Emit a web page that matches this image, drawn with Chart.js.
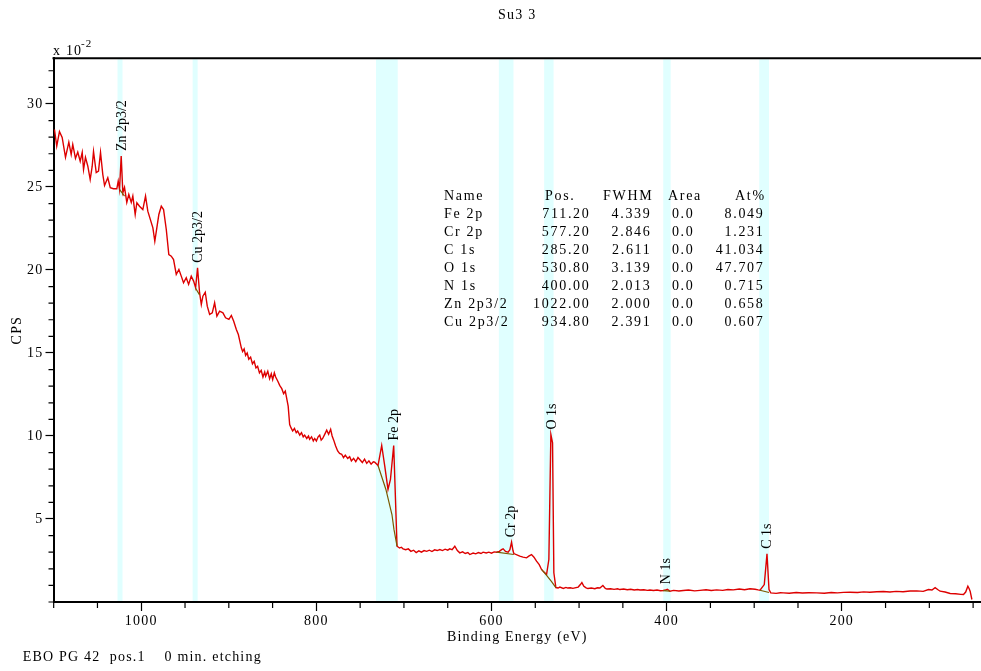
<!DOCTYPE html>
<html>
<head>
<meta charset="utf-8">
<title>Su3 3</title>
<script src="https://cdn.jsdelivr.net/npm/chart.js@4.4.1/dist/chart.umd.min.js"></script>
<style>
  html, body { margin: 0; padding: 0; background: #fff; }
  #wrap { width: 981px; height: 671px; }
</style>
</head>
<body>
<div id="wrap"><canvas id="chart" width="981" height="671"></canvas></div>
<script>
// ── Survey spectrum (binding energy in eV, CPS × 10^-2) ─────────────────────
const energy = [
  // 1100 → 886 eV
  1099.1, 1096.5, 1093.4, 1090.3, 1086.5, 1082.7, 1080.0, 1078.2, 1075.1, 1072.5,
  1069.7, 1067.4, 1065.9, 1063.7, 1061.0, 1058.3, 1056.0, 1054.5, 1051.4, 1048.8,
  1046.5, 1043.9, 1041.9, 1038.2, 1035.4, 1031.7, 1027.9, 1026.3, 1024.8, 1022.9,
  1021.0, 1019.1, 1016.5, 1014.2, 1011.4, 1009.6, 1006.9, 1005.0, 1002.0, 998.2,
  995.1, 992.5, 986.7, 984.5, 982.2, 979.9, 977.1, 974.5, 971.4, 968.5,
  965.7, 963.1, 960.0, 957.0, 954.3, 951.7, 948.6, 945.9, 942.9, 940.2,
  937.9, 935.7, 933.4, 931.4, 929.6, 926.9, 924.6, 921.9, 918.9, 916.2,
  913.6, 910.5, 906.7, 903.7, 899.9, 897.1, 894.5, 891.4, 889.1, 885.7,
  // 884 → 731 eV
  884.2, 882.5, 880.8, 879.0, 877.2, 875.1, 873.0, 871.0, 869.0, 867.1,
  865.0, 863.0, 861.0, 859.0, 857.9, 855.5, 853.4, 851.5, 849.9, 848.0,
  846.5, 844.0, 841.9, 839.5, 837.4, 835.5, 834.0, 832.2, 830.5, 829.0,
  827.1, 825.0, 823.0, 821.4, 819.0, 817.0, 815.0, 813.4, 811.0, 809.0,
  807.7, 805.5, 803.5, 801.9, 800.0, 798.0, 796.2, 794.5, 792.8, 790.5,
  788.2, 786.0, 783.7, 782.0, 780.2, 778.0, 775.7, 773.5, 771.1, 769.0,
  767.0, 764.2, 762.0, 760.0, 757.5, 755.0, 752.5, 750.0, 747.5, 745.0,
  742.5, 740.0, 737.5, 735.0, 733.4, 731.0,
  // Fe 2p
  729.6, 725.4, 721.9, 718.2, 715.4, 711.7, 709.4,
  // 708 → 574 eV
  707.9, 705.0, 703.0, 701.0, 698.0, 695.0, 692.0, 689.0, 686.0, 683.0,
  680.0, 677.0, 674.0, 671.0, 668.0, 665.0, 662.0, 659.0, 656.0, 653.0,
  650.0, 647.7, 645.0, 641.9, 639.0, 636.2, 633.0, 630.0, 627.0, 624.8,
  621.0, 618.0, 615.0, 612.0, 609.6, 606.0, 603.0, 600.0, 597.0, 594.3,
  591.0, 588.5, 586.7, 584.0, 581.0, 579.0, 577.1, 575.5, 574.5,
  // 568 → 529 eV (O 1s)
  567.7, 564.0, 560.0, 557.0, 554.3, 551.5, 548.6, 545.5, 542.9, 540.0,
  537.1, 534.5, 532.2, 530.3, 528.8,
  // 527 → 293 eV
  526.5, 524.0, 521.9, 518.0, 515.0, 513.0, 510.0, 507.0, 504.8, 501.0,
  498.5, 496.8, 494.5, 492.0, 489.9, 486.0, 482.0, 479.0, 476.2, 472.8,
  470.0, 468.2, 464.0, 460.0, 456.0, 453.4, 449.0, 445.0, 441.0, 437.0,
  433.0, 430.5, 426.0, 422.0, 419.1, 415.0, 411.0, 407.0, 403.9, 401.0,
  399.3, 397.5, 396.2, 392.0, 386.0, 381.0, 375.0, 368.0, 361.9, 355.0,
  349.0, 342.9, 336.0, 330.0, 323.9, 317.0, 311.0, 304.8, 299.0, 295.5,
  293.4,
  // C 1s and low-energy tail
  288.5, 285.4, 283.1, 281.1, 275.0, 270.0, 266.7, 260.0, 252.0, 245.0,
  238.0, 228.6, 220.0, 212.0, 205.0, 198.0, 190.5, 182.0, 175.0, 168.0,
  160.0, 152.5, 145.0, 138.0, 130.0, 122.0, 114.3, 107.0, 101.0, 97.0,
  93.4, 90.5, 87.7, 82.0, 76.2, 70.0, 64.0, 61.0, 58.5, 56.0,
  54.5, 53.4, 51.4
];
const cps = [
  // 1100 → 886 eV
  28.46, 27.46, 28.34, 27.98, 26.78, 27.70, 26.96, 27.56, 26.72, 27.10,
  26.55, 27.08, 26.05, 26.78, 26.25, 25.45, 26.25, 27.14, 25.87, 25.95,
  27.08, 25.75, 25.09, 25.55, 24.95, 24.89, 24.89, 25.35, 24.85, 26.86,
  24.65, 24.97, 24.07, 24.55, 24.07, 24.45, 23.34, 24.05, 23.84, 23.64,
  24.45, 23.54, 22.54, 21.73, 22.54, 23.34, 23.84, 23.64, 22.44, 20.93,
  20.83, 20.63, 19.73, 20.03, 19.63, 19.23, 19.53, 19.13, 19.63, 19.33,
  18.93, 20.13, 18.63, 17.92, 18.42, 18.66, 17.82, 17.32, 17.42, 18.02,
  17.22, 17.52, 17.42, 17.12, 17.02, 17.26, 16.92, 16.42, 16.11, 15.31,
  // 884 → 731 eV
  15.09, 15.25, 14.85, 15.00, 14.62, 14.75, 14.35, 14.50, 14.10, 14.20,
  13.80, 13.95, 13.55, 13.85, 13.60, 13.90, 13.45, 13.75, 13.40, 13.80,
  13.55, 13.30, 13.05, 12.85, 12.55, 12.70, 12.30, 11.80, 10.69, 10.50,
  10.30, 10.45, 10.20, 10.30, 10.05, 10.20, 9.95, 10.05, 9.85, 10.00,
  9.80, 9.95, 9.70, 9.85, 9.70, 9.95, 10.05, 9.75, 9.85, 10.10,
  10.35, 10.10, 10.40, 10.00, 9.75, 9.40, 9.10, 8.95, 8.90, 8.70,
  8.85, 8.65, 8.75, 8.50, 8.65, 8.45, 8.70, 8.55, 8.40, 8.60,
  8.35, 8.50, 8.30, 8.45, 8.42, 8.30,
  // Fe 2p
  8.22, 9.43, 8.18, 6.78, 7.38, 9.43, 5.77,
  // 708 → 574 eV
  3.36, 3.25, 3.30, 3.20, 3.15, 3.20, 3.05, 3.12, 2.98, 3.08,
  3.00, 3.10, 3.05, 3.12, 3.04, 3.14, 3.10, 3.16, 3.10, 3.18,
  3.12, 3.20, 3.15, 3.36, 3.10, 2.96, 3.02, 2.92, 2.98, 2.86,
  2.95, 2.90, 2.98, 2.92, 3.00, 2.95, 3.00, 2.94, 3.02, 3.00,
  3.05, 3.15, 3.20, 3.05, 3.00, 3.15, 3.60, 3.10, 2.92,
  // 568 → 529 eV (O 1s)
  2.76, 2.70, 2.66, 2.78, 2.86, 2.70, 2.46, 2.25, 1.96, 1.80,
  1.66, 2.56, 10.09, 9.59, 1.76,
  // 527 → 293 eV
  0.87, 0.84, 0.90, 0.82, 0.88, 0.84, 0.86, 0.82, 0.85, 0.90,
  1.05, 1.17, 0.95, 0.85, 0.81, 0.84, 0.80, 0.86, 0.84, 0.99,
  0.82, 0.78, 0.80, 0.76, 0.80, 0.75, 0.78, 0.74, 0.77, 0.72,
  0.75, 0.72, 0.74, 0.70, 0.72, 0.69, 0.72, 0.68, 0.69, 0.72,
  0.77, 0.70, 0.65, 0.70, 0.66, 0.69, 0.72, 0.67, 0.70, 0.74,
  0.69, 0.73, 0.70, 0.75, 0.73, 0.78, 0.74, 0.80, 0.77, 0.73,
  0.71,
  // C 1s and low-energy tail
  1.05, 2.90, 0.75, 0.55, 0.52, 0.56, 0.55, 0.53, 0.57, 0.54,
  0.56, 0.55, 0.53, 0.57, 0.55, 0.58, 0.59, 0.57, 0.61, 0.59,
  0.62, 0.63, 0.60, 0.64, 0.62, 0.66, 0.67, 0.64, 0.75, 0.72,
  0.86, 0.75, 0.65, 0.60, 0.51, 0.50, 0.46, 0.45, 0.60, 0.95,
  0.80, 0.65, 0.15
];

// ── Fitted backgrounds under each peak (null = gap between segments) ────────
const bgEnergy = [
  1024.8, 1019.1, 1019.0,
  937.9, 933.4, 933.3,
  729.6, 720.6, 713.7, 711.4, 707.9, 707.8,
  594.3, 574.5, 574.4,
  542.9, 537.1, 531.4, 526.5, 526.4,
  403.9, 396.2, 396.1,
  293.4, 283.1
];
const bgCps = [
  24.85, 24.45, null,
  18.90, 18.50, null,
  8.22, 6.78, 5.27, 4.37, 3.36, null,
  3.00, 2.86, null,
  1.96, 1.60, 1.23, 0.87, null,
  0.69, 0.66, null,
  0.71, 0.57
];

// ── Peak table ──────────────────────────────────────────────────────────────
const peakNames = ["Fe 2p", "Cr 2p", "C 1s", "O 1s", "N 1s", "Zn 2p3/2", "Cu 2p3/2"];
const peakPos   = [711.20, 577.20, 285.20, 530.80, 400.00, 1022.00, 934.80];
const peakFwhm  = [4.339, 2.846, 2.611, 3.139, 2.013, 2.000, 2.391];
const peakArea  = [0.0, 0.0, 0.0, 0.0, 0.0, 0.0, 0.0];
const peakAt    = [8.049, 1.231, 41.034, 47.707, 0.715, 0.658, 0.607];
// integration region of each peak (eV)
const bandLo    = [707.1, 574.9, 283.1, 529.1, 395.4, 1021.4, 935.6];
const bandHi    = [731.9, 591.6, 294.2, 539.9, 403.9, 1027.1, 941.3];

// ── Axis ticks ──────────────────────────────────────────────────────────────
const xTickValues = [1100, 1050, 1000, 950, 900, 850, 800, 750, 700, 650, 600,
                     550, 500, 450, 400, 350, 300, 250, 200, 150, 100, 50];
const xLabelValues = [1000, 800, 600, 400, 200];
const yTickValues = [0, 1, 2, 3, 4, 5, 6, 7, 8, 9, 10, 11, 12, 13, 14, 15, 16,
                     17, 18, 19, 20, 21, 22, 23, 24, 25, 26, 27, 28, 29, 30, 31, 32];
const yLabelValues = [5, 10, 15, 20, 25, 30];

const SERIF = "'Liberation Serif', 'Times New Roman', serif";
Chart.defaults.font.family = SERIF;
Chart.defaults.font.size = 14;
Chart.defaults.color = "#000";

const spectrum = energy.map((e, i) => ({ x: e, y: cps[i] }));
const background = bgEnergy.map((e, i) => ({ x: e, y: bgCps[i] }));

// ── Decorations drawn through the chart's own scales ───────────────────────
const xpsDecor = {
  id: "xpsDecor",
  beforeDraw(chart) {
    chart.ctx.letterSpacing = "1.2px";
  },
  beforeDatasetsDraw(chart) {
    const { ctx, chartArea: a, scales: { x } } = chart;
    ctx.save();
    ctx.fillStyle = "#e0ffff";
    bandLo.forEach((lo, i) => {
      const p1 = x.getPixelForValue(bandHi[i]);
      const p2 = x.getPixelForValue(lo);
      ctx.fillRect(p1, a.top + 1, p2 - p1, a.bottom - a.top - 2);
    });
    ctx.restore();
  },
  afterDatasetsDraw(chart) {
    const { ctx, scales: { x, y } } = chart;
    ctx.save();
    // peak labels, rotated, sitting just above each peak
    ctx.letterSpacing = "0px";
    ctx.font = "14px " + SERIF;
    ctx.fillStyle = "#000";
    ctx.textAlign = "left";
    ctx.textBaseline = "middle";
    peakNames.forEach((name, i) => {
      let top = 0;
      energy.forEach((e, j) => {
        if (e >= bandLo[i] && e <= bandHi[i] && cps[j] > top) top = cps[j];
      });
      const px = x.getPixelForValue(peakPos[i]);
      const py = y.getPixelForValue(top) - 5;
      ctx.save();
      ctx.translate(px, py);
      ctx.rotate(-Math.PI / 2);
      ctx.fillText(name, 0, 0);
      ctx.restore();
    });

    // quantification table
    ctx.letterSpacing = "1.7px";
    const rowY = (r) => y.getPixelForValue(32.75) + 138 + r * 18;
    ctx.textAlign = "left";
    ctx.fillText("Name", 444, rowY(0));
    ctx.fillText("Pos.", 545, rowY(0));
    ctx.fillText("FWHM", 603, rowY(0));
    ctx.fillText("Area", 668, rowY(0));
    ctx.fillText("At%", 735, rowY(0));
    peakNames.forEach((name, i) => {
      const yy = rowY(i + 1);
      ctx.textAlign = "left";
      ctx.fillText(name, 444, yy);
      ctx.textAlign = "right";
      ctx.fillText(peakPos[i].toFixed(2), 590.5, yy);
      ctx.fillText(peakFwhm[i].toFixed(3), 651.5, yy);
      ctx.fillText(peakArea[i].toFixed(1), 694.5, yy);
      ctx.fillText(peakAt[i].toFixed(3), 764.5, yy);
    });
    ctx.restore();
  },
  afterDraw(chart) {
    const { ctx, chartArea: a, scales: { x, y } } = chart;
    ctx.save();
    // top frame line
    ctx.strokeStyle = "#000";
    ctx.lineWidth = 2;
    ctx.beginPath();
    ctx.moveTo(a.left - 1, a.top);
    ctx.lineTo(a.right, a.top);
    ctx.stroke();
    // minor ticks
    ctx.lineWidth = 1.2;
    ctx.beginPath();
    xTickValues.forEach((v) => {
      if (xLabelValues.includes(v)) return;
      const px = x.getPixelForValue(v);
      ctx.moveTo(px, a.bottom);
      ctx.lineTo(px, a.bottom + 6);
    });
    yTickValues.forEach((v) => {
      if (yLabelValues.includes(v)) return;
      const py = y.getPixelForValue(v);
      ctx.moveTo(a.left, py);
      ctx.lineTo(a.left - 5, py);
    });
    ctx.stroke();
    // multiplier and footer text
    ctx.fillStyle = "#000";
    ctx.textAlign = "left";
    ctx.textBaseline = "alphabetic";
    ctx.font = "14px " + SERIF;
    ctx.fillText("x 10", 53, 54.5);
    ctx.font = "11px " + SERIF;
    ctx.fillText("-2", 81, 47);
    ctx.font = "14px " + SERIF;
    ctx.textBaseline = "middle";
    ctx.fillText("EBO PG 42  pos.1    0 min. etching", 22.7, 657);
    ctx.restore();
  },
};

new Chart(document.getElementById("chart"), {
  type: "line",
  data: {
    datasets: [
      {
        label: "spectrum",
        data: spectrum,
        borderColor: "#dd0000",
        borderWidth: 1.4,
        pointRadius: 0,
        tension: 0,
        order: 1,
      },
      {
        label: "background",
        data: background,
        borderColor: "#7a5a00",
        borderWidth: 1.2,
        pointRadius: 0,
        tension: 0,
        spanGaps: false,
        order: 0,
      },
    ],
  },
  options: {
    responsive: false,
    animation: false,
    devicePixelRatio: 1,
    layout: { padding: { left: 5, right: 0, top: 0, bottom: 21.1 } },
    plugins: {
      legend: { display: false },
      tooltip: { enabled: false },
      title: {
        display: true,
        text: "Su3 3",
        fullSize: false,
        font: { size: 14, weight: "normal" },
        padding: { top: 6.6, bottom: 34.9 },
      },
    },
    scales: {
      x: {
        type: "linear",
        reverse: true,
        min: 41,
        max: 1100.2,
        afterBuildTicks: (s) => { s.ticks = xTickValues.map((value) => ({ value })); },
        afterFit: (s) => { s.height = 47.9; },
        ticks: {
          autoSkip: false,
          maxRotation: 0,
          padding: 2,
          callback: (v) => (xLabelValues.includes(v) ? String(v) : ""),
        },
        grid: {
          drawOnChartArea: false,
          tickLength: 9,
          tickWidth: 1.2,
          tickColor: (c) => (c.tick && xLabelValues.includes(c.tick.value) ? "#000" : "rgba(0,0,0,0)"),
        },
        border: { display: true, color: "#000", width: 2 },
        title: {
          display: true,
          text: "Binding Energy (eV)",
          padding: { top: 0, bottom: 4 },
        },
      },
      y: {
        type: "linear",
        min: 0,
        max: 32.75,
        afterBuildTicks: (s) => { s.ticks = yTickValues.map((value) => ({ value })); },
        afterFit: (s) => { s.width = 48.5; },
        ticks: {
          autoSkip: false,
          padding: 2,
          callback: (v) => (yLabelValues.includes(v) ? String(v) : ""),
        },
        grid: {
          drawOnChartArea: false,
          tickLength: 8,
          tickWidth: 1.2,
          tickColor: (c) => (c.tick && yLabelValues.includes(c.tick.value) ? "#000" : "rgba(0,0,0,0)"),
        },
        border: { display: true, color: "#000", width: 2 },
        title: {
          display: true,
          text: "CPS",
          padding: { top: 4.1, bottom: 0 },
        },
      },
    },
  },
  plugins: [xpsDecor],
});
</script>
</body>
</html>
